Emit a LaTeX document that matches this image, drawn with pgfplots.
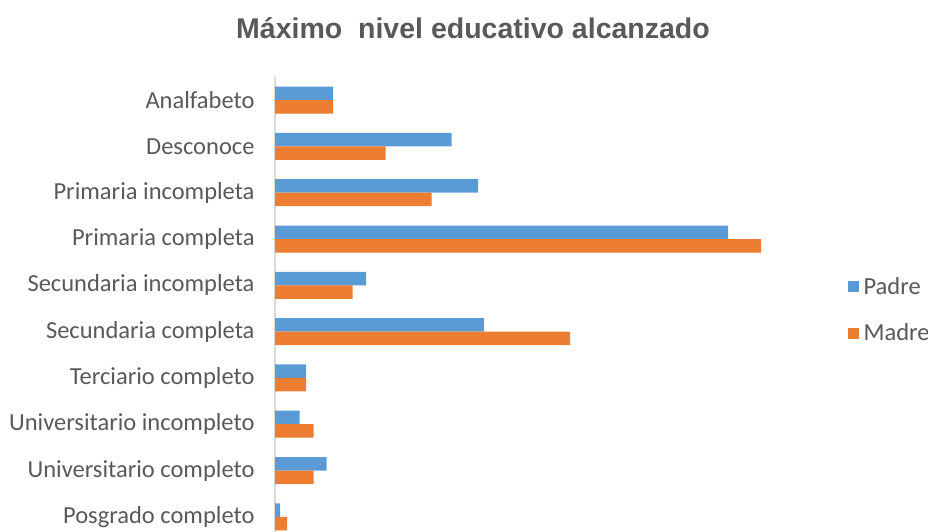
\documentclass[border=0pt]{standalone}
\usepackage{pgfplots}
\pgfplotsset{compat=1.18}
\usepackage{fontspec}
\setmainfont{Carlito}
\newfontfamily\titlefont{Liberation Sans}
\definecolor{cblue}{HTML}{5B9BD5}
\definecolor{corange}{HTML}{ED7D31}
\definecolor{txt}{HTML}{595959}
\definecolor{axln}{HTML}{D9D9D9}
\begin{document}
\begin{tikzpicture}[x=1bp,y=1bp]
\path[use as bounding box] (0,0) rectangle (928,532);
\node[font=\titlefont\fontsize{28.5bp}{32bp}\selectfont\bfseries, text=txt] at (473,504) {Máximo\ \ nivel educativo alcanzado};
\begin{axis}[
  at={(275bp,-8bp)}, anchor=south west,
  scale only axis, width=520bp, height=463bp,
  xbar, bar width=13.5bp,
  xmin=0, xmax=520,
  ymin=-0.5, ymax=9.5, y dir=reverse,
  ytick={0,...,9},
  yticklabels={Analfabeto,Desconoce,Primaria incompleta,Primaria completa,Secundaria incompleta,Secundaria completa,Terciario completo,Universitario incompleto,Universitario completo,Posgrado completo},
  yticklabel style={font=\fontsize{24.5bp}{28bp}\selectfont, text=txt, xshift=-17bp},
  major tick length=0pt,
  xtick=\empty,
  axis line style={draw=none},
  axis x line=none,
  axis y line*=left,
  y axis line style={draw=axln, line width=1.5bp},
  clip=false,
  legend style={draw=none, at={(rel axis cs:1.095,0.497)}, anchor=west, font=\fontsize{24.5bp}{28bp}\selectfont, text=txt, row sep=24bp, cells={anchor=west}},
  legend image code/.code={\fill[#1] (0bp,-5.5bp) rectangle (11bp,5.5bp);},
]
\addplot[fill=cblue, draw=none, bar shift=6.75bp] coordinates {(58,0) (176.5,1) (203,2) (453,3) (91,4) (209,5) (31,6) (24.5,7) (51.5,8) (5,9)};
\addplot[fill=corange, draw=none, bar shift=-6.75bp] coordinates {(58,0) (110.5,1) (156.5,2) (486,3) (77.5,4) (295,5) (31,6) (38.5,7) (38.5,8) (12,9)};
\legend{\hspace{3bp}Padre,\hspace{3bp}Madre}
\end{axis}
\end{tikzpicture}
\end{document}
